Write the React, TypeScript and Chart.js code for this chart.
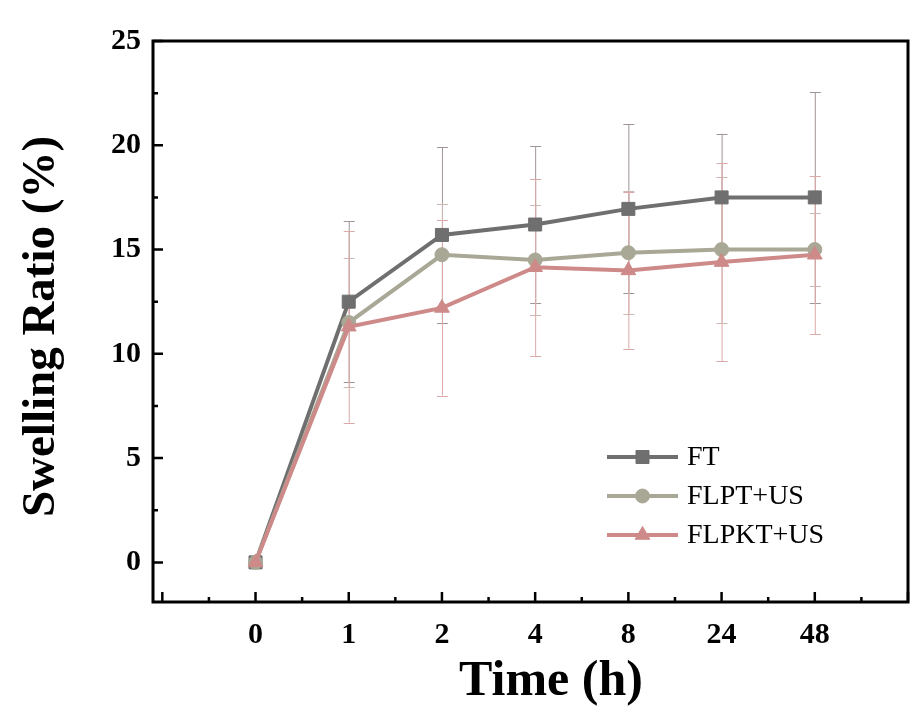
import React, { useEffect, useRef } from 'react';
import { Chart, registerables } from 'chart.js';

Chart.register(...registerables);

// ---- data ----
const categories = ['0', '1', '2', '4', '8', '24', '48'];
const seriesLabels = ['FT', 'FLPT+US', 'FLPKT+US'];
const ftValues = [0, 12.5, 15.7, 16.2, 16.95, 17.5, 17.5];
const ftErrors = [0, 3.85, 4.2, 3.75, 4.05, 3.05, 5.05];
const flptValues = [0, 11.5, 14.75, 14.5, 14.85, 15.0, 15.0];
const flptErrors = [0, 3.1, 2.45, 2.65, 2.95, 3.5, 1.75];
const flpktValues = [0, 11.3, 12.2, 14.15, 14.0, 14.4, 14.75];
const flpktErrors = [0, 4.6, 4.2, 4.25, 3.75, 4.75, 3.8];
const yTickValues = [0, 5, 10, 15, 20, 25];
const yMinorTicks = [2.5, 7.5, 12.5, 17.5, 22.5];
const xMajorTicks = [-1, 0, 1, 2, 3, 4, 5, 6, 7];
const xMinorTicks = [-0.5, 0.5, 1.5, 2.5, 3.5, 4.5, 5.5, 6.5];
const xAxisTitle = 'Time (h)';
const yAxisTitle = 'Swelling Ratio (%)';

const SERIF = "'Liberation Serif', 'Times New Roman', serif";

function drawMarker(ctx: CanvasRenderingContext2D, style: string, x: number, y: number, color: string) {
  ctx.save();
  ctx.fillStyle = color;
  ctx.strokeStyle = color;
  ctx.lineWidth = 1;
  ctx.beginPath();
  if (style === 'rect') {
    ctx.rect(x - 6.5, y - 6.5, 13, 13);
  } else if (style === 'circle') {
    ctx.arc(x, y, 7, 0, Math.PI * 2);
  } else {
    const r = 8.5;
    ctx.moveTo(x, y - r);
    ctx.lineTo(x + r * Math.sin((2 * Math.PI) / 3), y - r * Math.cos((2 * Math.PI) / 3));
    ctx.lineTo(x + r * Math.sin((4 * Math.PI) / 3), y - r * Math.cos((4 * Math.PI) / 3));
    ctx.closePath();
  }
  ctx.fill();
  ctx.stroke();
  ctx.restore();
}

const errorBarPlugin = {
  id: 'errorBars',
  beforeDatasetsDraw(chart: any) {
    const ctx = chart.ctx;
    const xs = chart.scales.x;
    const ys = chart.scales.y;
    chart.data.datasets.forEach((ds: any) => {
      ds.data.forEach((p: any, j: number) => {
        const e = ds.errors[j];
        if (!e) return;
        const x = xs.getPixelForValue(p.x);
        const yT = ys.getPixelForValue(p.y + e);
        const yB = ys.getPixelForValue(p.y - e);
        ctx.save();
        ctx.strokeStyle = ds.errorColor;
        ctx.lineWidth = 1;
        ctx.beginPath();
        ctx.moveTo(x + 0.5, yT);
        ctx.lineTo(x + 0.5, yB);
        ctx.moveTo(x - 5, Math.round(yT) + 0.5);
        ctx.lineTo(x + 6, Math.round(yT) + 0.5);
        ctx.moveTo(x - 5, Math.round(yB) + 0.5);
        ctx.lineTo(x + 6, Math.round(yB) + 0.5);
        ctx.stroke();
        ctx.restore();
      });
    });
  },
};

const framePlugin = {
  id: 'frame',
  afterDraw(chart: any) {
    const ctx = chart.ctx;
    const { left, right, top, bottom } = chart.chartArea;
    const xs = chart.scales.x;
    const ys = chart.scales.y;
    ctx.save();
    ctx.strokeStyle = '#000';
    ctx.lineWidth = 3;
    ctx.strokeRect(left, top, right - left, bottom - top);
    ctx.lineWidth = 2.5;
    ctx.beginPath();
    xMajorTicks.forEach((v) => {
      const x = xs.getPixelForValue(v);
      ctx.moveTo(x, bottom);
      ctx.lineTo(x, bottom - 10);
    });
    xMinorTicks.forEach((v) => {
      const x = xs.getPixelForValue(v);
      ctx.moveTo(x, bottom);
      ctx.lineTo(x, bottom - 5);
    });
    yTickValues.forEach((v) => {
      const y = ys.getPixelForValue(v);
      ctx.moveTo(left, y);
      ctx.lineTo(left + 10, y);
    });
    yMinorTicks.forEach((v) => {
      const y = ys.getPixelForValue(v);
      ctx.moveTo(left, y);
      ctx.lineTo(left + 5, y);
    });
    ctx.stroke();

    // axis titles
    ctx.fillStyle = '#000';
    ctx.textAlign = 'center';
    ctx.textBaseline = 'alphabetic';
    ctx.font = `bold 50px ${SERIF}`;
    ctx.fillText(xAxisTitle, left + 398, 695);
    ctx.save();
    ctx.translate(54, (top + bottom) / 2 + 5);
    ctx.rotate(-Math.PI / 2);
    ctx.font = `bold 47px ${SERIF}`;
    ctx.fillText(yAxisTitle, 0, 0);
    ctx.restore();

    // legend
    const lx0 = left + 454;
    const lx1 = left + 525;
    const rowY = [457, 496, 535];
    chart.data.datasets.forEach((ds: any, i: number) => {
      const y = rowY[i];
      ctx.strokeStyle = ds.borderColor;
      ctx.lineWidth = 4;
      ctx.beginPath();
      ctx.moveTo(lx0, y);
      ctx.lineTo(lx1, y);
      ctx.stroke();
      drawMarker(ctx, ds.pointStyle, (lx0 + lx1) / 2, y, ds.borderColor);
      ctx.fillStyle = '#000';
      ctx.font = `28px ${SERIF}`;
      ctx.textAlign = 'left';
      ctx.textBaseline = 'middle';
      ctx.fillText(ds.label, lx1 + 9, y + 1);
    });
    ctx.restore();
  },
};

export default function App() {
  const ref = useRef<HTMLCanvasElement | null>(null);

  useEffect(() => {
    document.body.style.margin = '0';
    const canvas = ref.current;
    if (!canvas) return;
    const tickFont = { family: SERIF, weight: 'bold' as const, size: 30 };
    const mk = (label: string, values: number[], errors: number[], color: string, errColor: string, style: string, radius: number, order: number) => ({
      label,
      data: values.map((y, i) => ({ x: i, y })),
      errors,
      errorColor: errColor,
      borderColor: color,
      backgroundColor: color,
      pointBackgroundColor: color,
      pointBorderColor: color,
      pointStyle: style,
      pointRadius: radius,
      pointBorderWidth: 1,
      borderWidth: 4,
      tension: 0,
      order,
    });
    const chart = new Chart(canvas, {
      type: 'line',
      data: {
        datasets: [
          mk(seriesLabels[0], ftValues, ftErrors, '#6f6f6f', '#a09595', 'rect', 9.2, 3),
          mk(seriesLabels[1], flptValues, flptErrors, '#a9a795', '#cbb8b2', 'circle', 7, 2),
          mk(seriesLabels[2], flpktValues, flpktErrors, '#cd8a88', '#dba9a8', 'triangle', 8.5, 1),
        ] as any,
      },
      options: {
        animation: false,
        responsive: false,
        maintainAspectRatio: false,
        layout: { padding: { top: 41, right: 14, left: 0, bottom: 0 } },
        scales: {
          x: {
            type: 'linear',
            min: -1.1,
            max: 7,
            afterBuildTicks: (s: any) => {
              s.ticks = categories.map((_, i) => ({ value: i }));
            },
            afterFit: (s: any) => {
              s.height = 106;
            },
            ticks: {
              callback: (v: any) => categories[Math.round(Number(v))],
              font: tickFont,
              color: '#000',
              padding: 15,
              autoSkip: false,
              maxRotation: 0,
            },
            grid: { display: false, drawTicks: false },
            border: { display: false },
          },
          y: {
            type: 'linear',
            min: -1.9,
            max: 25,
            afterBuildTicks: (s: any) => {
              s.ticks = yTickValues.map((v) => ({ value: v }));
            },
            afterFit: (s: any) => {
              s.width = 153;
            },
            ticks: {
              callback: (v: any) => String(v),
              font: tickFont,
              color: '#000',
              padding: 12,
            },
            grid: { display: false, drawTicks: false },
            border: { display: false },
          },
        },
        plugins: {
          legend: { display: false },
          tooltip: { enabled: false },
        },
      },
      plugins: [errorBarPlugin, framePlugin],
    } as any);
    return () => chart.destroy();
  }, []);

  return (
    <div style={{ width: 922, height: 708, background: '#fff' }}>
      <canvas ref={ref} width={922} height={708} style={{ display: 'block' }} />
    </div>
  );
}
